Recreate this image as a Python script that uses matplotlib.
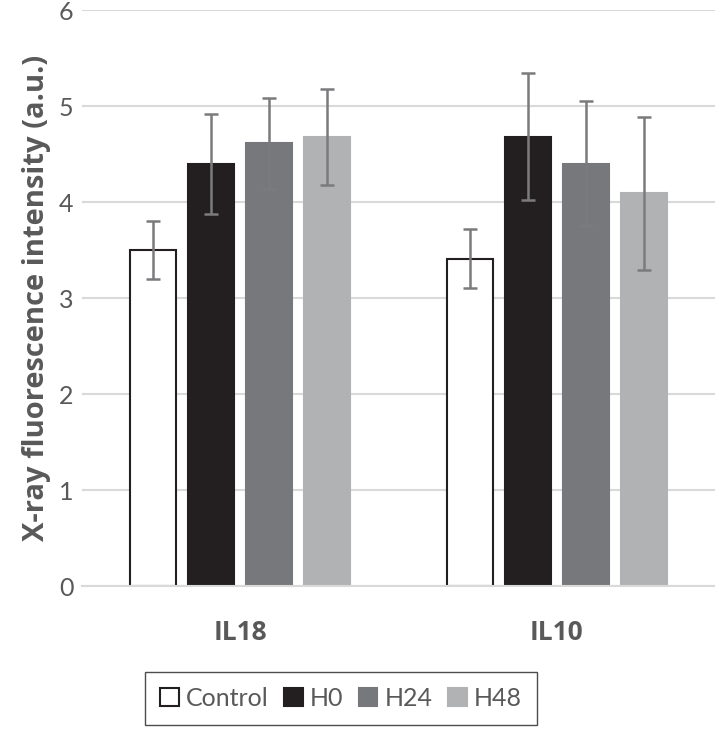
import numpy as np
import matplotlib.pyplot as plt

plt.rcParams['font.family'] = ['Lato', 'DejaVu Sans']

# data
categories = ['IL18', 'IL10']
series = ['Control', 'H0', 'H24', 'H48']
means = [[3.50, 3.41],
         [4.40, 4.68],
         [4.61, 4.40],
         [4.68, 4.09]]
errs = [[0.30, 0.31],
        [0.52, 0.66],
        [0.47, 0.65],
        [0.50, 0.80]]

face = ['white', '#231f20', '#77787b', '#b1b2b4']
edge = ['#231f20', '#231f20', '#77787b', '#b1b2b4']
txt = '#595959'
bold_font = ['Open Sans', 'DejaVu Sans']

fig = plt.figure(figsize=(7.15, 7.29), dpi=100)
ax = fig.add_axes([82/715, 1 - 586/729, 633/715, 576/729])

x = np.arange(len(categories))
w = 0.145
step = 0.183
for i in range(len(series)):
    pos = x + (i - 1.5) * step
    ax.bar(pos, means[i], width=w, color=face[i], edgecolor=edge[i],
           linewidth=1.5, label=series[i], zorder=2)
    ax.errorbar(pos, means[i], yerr=errs[i], fmt='none', ecolor='#7b7b7e',
                elinewidth=1.8, capsize=5, capthick=1.8, zorder=3)

ax.set_xlim(-0.5, 1.5)
ax.set_ylim(0, 6)
ax.set_yticks(range(7))
ax.yaxis.grid(True, color='#d9d9d9', linewidth=1.5, zorder=0)
ax.set_axisbelow(True)
for s in ['top', 'right', 'left']:
    ax.spines[s].set_visible(False)
ax.spines['bottom'].set_color('#d9d9d9')
ax.spines['bottom'].set_linewidth(1.5)
ax.tick_params(axis='both', length=0, labelsize=18, colors=txt)
ax.tick_params(axis='y', pad=6)
ax.tick_params(axis='x', pad=24)
ax.set_xticks(x)
ax.set_xticklabels(categories, fontweight='bold', fontsize=19, family=bold_font)
ax.set_ylabel('X-ray fluorescence intensity (a.u.)', fontsize=21,
              fontweight='bold', color=txt, labelpad=6, family=bold_font)

leg = fig.legend(loc='center', bbox_to_anchor=(341/715, 1 - 698/729),
                 ncol=4, frameon=True, fancybox=False, fontsize=18,
                 handlelength=0.75, handleheight=0.75, handletextpad=0.3,
                 columnspacing=0.6, borderpad=0.6, labelcolor=txt)
leg.get_frame().set_edgecolor('#231f20')
leg.get_frame().set_linewidth(1.0)

fig.savefig('out.png', dpi=100)
